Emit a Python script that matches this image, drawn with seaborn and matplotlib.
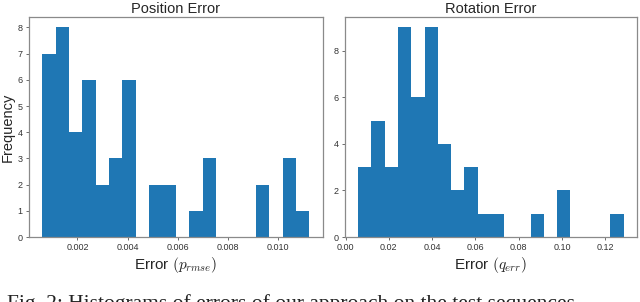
import numpy as np
import pandas as pd
import matplotlib
matplotlib.use("Agg")
import matplotlib.pyplot as plt
import seaborn as sns

# Position error histogram: 20 bins between min and max value
pos_min, pos_max = 0.0006, 0.01125
pos_counts = [7, 8, 4, 6, 2, 3, 6, 0, 2, 2, 0, 1, 3, 0, 0, 0, 2, 0, 3, 1]

# Rotation error histogram
rot_min, rot_max = 0.00586, 0.1284
rot_counts = [3, 5, 3, 9, 6, 9, 4, 2, 3, 1, 1, 0, 0, 1, 0, 2, 0, 0, 0, 1]

sns.set_style("ticks")
plt.rcParams["font.family"] = ["Liberation Sans", "DejaVu Sans"]
plt.rcParams["mathtext.fontset"] = "cm"

fig = plt.figure(figsize=(6.4, 3.02), dpi=100)
ax1 = fig.add_axes([0.0453, 0.2152, 0.459, 0.7285])
ax2 = fig.add_axes([0.539, 0.2152, 0.456, 0.7285])


def draw_hist(ax, lo, hi, counts):
    edges = np.linspace(lo, hi, len(counts) + 1)
    df = pd.DataFrame({"err": (edges[:-1] + edges[1:]) / 2,
                       "n": np.asarray(counts, dtype=float)})
    sns.histplot(data=df, x="err", weights="n", bins=len(counts),
                 binrange=(lo, hi), ax=ax,
                 color="#1f77b4", alpha=1, linewidth=0)
    ax.set_xlim(lo - 0.05 * (hi - lo), hi + 0.05 * (hi - lo))
    ax.set_ylim(0, max(counts) * 1.05)
    ax.tick_params(labelsize=6.5, length=2.5, width=0.6,
                   color="#555555", labelcolor="#333333", pad=2)
    for s in ax.spines.values():
        s.set_visible(True)
        s.set_color("#8a8a8a")
        s.set_linewidth(0.9)


draw_hist(ax1, pos_min, pos_max, pos_counts)
draw_hist(ax2, rot_min, rot_max, rot_counts)

ax1.set_xticks([0.002, 0.004, 0.006, 0.008, 0.010])
ax1.set_xticklabels(["0.002", "0.004", "0.006", "0.008", "0.010"])
ax1.set_yticks(range(0, 9))
ax2.set_xticks([0.00, 0.02, 0.04, 0.06, 0.08, 0.10, 0.12])
ax2.set_xticklabels(["0.00", "0.02", "0.04", "0.06", "0.08", "0.10", "0.12"])
ax2.set_yticks([0, 2, 4, 6, 8])

ax1.set_title("Position Error", fontsize=10.5, pad=3)
ax2.set_title("Rotation Error", fontsize=10.5, pad=3)
ax1.set_xlabel(r"Error $(p_{rmse})$", fontsize=11, labelpad=2)
ax2.set_xlabel(r"Error $(q_{err})$", fontsize=11, labelpad=2)
ax1.set_ylabel("Frequency", fontsize=10.5, labelpad=2)
ax2.set_ylabel("")

# paper caption, cut off by the bottom edge of the image
fig.text(0.011, -7 / 302, "Fig. 2: Histograms of errors of our approach on the test sequences",
         fontsize=15.5, family=["Liberation Serif"], va="baseline", ha="left", color="#222222")

fig.savefig("out.png", dpi=100)
